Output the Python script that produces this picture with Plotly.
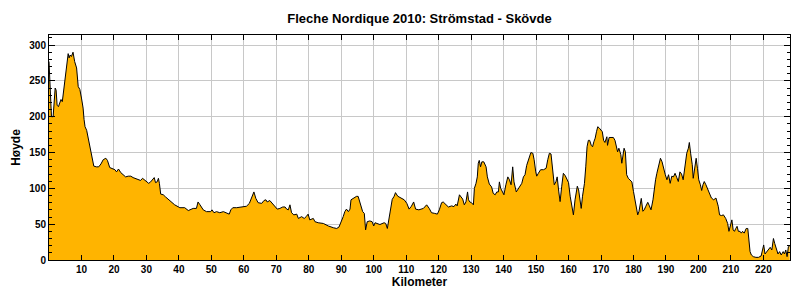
import plotly.graph_objects as go

title_text = "Fleche Nordique 2010: Strömstad - Skövde"
x_title = "Kilometer"
y_title = "Høyde"

km = [0.0, 0.3, 0.5, 0.76, 1.27, 1.6, 1.9, 2.2, 2.5, 2.9, 3.3, 3.7, 4.1, 4.6, 5.1, 5.5, 5.9, 6.2, 6.5, 6.9,
      7.4, 7.9, 8.5, 9.0, 9.5, 10.0, 10.5, 10.8, 11.1, 11.6, 12.1, 12.6, 13.1, 13.8, 14.6, 15.3, 16.0, 16.7, 17.5, 18.0,
      18.7, 19.5, 20.3, 20.8, 21.4, 22.1, 22.8, 23.6, 24.4, 25.2, 25.9, 26.6, 27.5, 28.2, 28.8, 29.5, 30.1, 30.7, 31.3, 31.9,
      32.4, 32.8, 33.3, 33.7, 34.0, 34.4, 35.2, 35.9, 36.7, 37.5, 38.2, 38.7, 40.3, 41.8, 42.9, 43.4, 44.4, 45.4, 45.9, 46.5,
      47.5, 48.5, 49.8, 50.2, 50.8, 51.6, 52.6, 53.7, 54.7, 55.5, 56.0, 56.6, 57.8, 58.8, 59.8, 60.8, 61.7, 62.4, 63.1, 63.7,
      64.4, 65.5, 66.2, 66.8, 67.2, 68.0, 68.8, 69.6, 70.3, 71.1, 72.0, 72.7, 73.2, 73.7, 74.2, 74.7, 75.4, 76.3, 76.8, 77.8,
      78.6, 79.3, 79.8, 80.3, 81.4, 81.9, 82.9, 84.5, 86.0, 87.6, 88.6, 89.3, 90.1, 90.6, 91.1, 91.6, 92.2, 92.7, 93.0, 93.7,
      94.7, 95.2, 95.5, 96.0, 96.6, 97.1, 97.5, 98.0, 98.8, 99.5, 100.0, 100.4, 101.9, 103.2, 103.7, 104.2, 104.7, 105.2, 105.7, 106.3,
      106.7, 107.4, 108.4, 109.4, 110.2, 110.9, 111.6, 112.3, 112.9, 113.9, 115.3, 116.3, 117.1, 117.8, 118.8, 119.6, 120.2, 120.9, 121.4, 122.3,
      123.0, 124.0, 124.7, 125.3, 125.7, 126.4, 126.8, 127.4, 127.9, 128.4, 128.9, 129.2, 129.6, 130.1, 130.7, 131.0, 131.5, 131.9, 132.2, 132.5,
      132.9, 133.3, 133.9, 134.6, 135.0, 135.6, 136.3, 136.8, 137.4, 137.9, 138.4, 138.7, 139.1, 139.7, 140.1, 140.7, 141.3, 141.8, 142.3, 142.8,
      143.2, 143.9, 144.3, 144.9, 145.6, 146.1, 146.6, 147.1, 147.9, 148.4, 149.0, 149.4, 149.9, 150.2, 150.7, 151.4, 152.3, 153.1, 153.6, 154.1,
      154.6, 154.9, 155.2, 155.6, 156.1, 156.5, 157.0, 157.4, 157.9, 158.4, 159.0, 159.5, 160.0, 160.5, 161.0, 161.5, 162.0, 162.3, 162.7, 163.1,
      163.5, 163.9, 164.3, 164.9, 165.3, 165.7, 166.1, 166.5, 167.0, 167.4, 167.8, 168.2, 168.6, 169.0, 169.5, 170.0, 170.4, 170.8, 171.2, 171.8,
      172.0, 172.5, 173.1, 173.8, 174.3, 174.8, 175.1, 175.5, 176.1, 176.4, 176.7, 177.1, 177.5, 177.9, 178.4, 178.9, 179.5, 180.0, 180.5, 180.9,
      181.3, 181.7, 182.0, 182.4, 182.9, 183.3, 183.8, 184.4, 184.9, 185.4, 186.0, 186.4, 186.8, 187.2, 187.7, 188.3, 188.8, 189.3, 189.8, 190.3,
      190.8, 191.3, 191.8, 192.3, 192.8, 193.3, 193.8, 194.3, 194.8, 195.3, 195.9, 196.4, 196.9, 197.2, 197.6, 198.1, 198.4, 198.9, 199.3, 199.7,
      200.1, 200.6, 201.0, 201.4, 201.8, 202.3, 202.8, 203.4, 204.0, 204.7, 205.4, 206.1, 206.5, 207.1, 207.7, 208.4, 209.0, 209.4, 209.8, 210.3,
      210.7, 211.1, 211.5, 211.9, 212.3, 212.8, 213.2, 213.6, 214.1, 214.7, 215.2, 215.5, 215.9, 216.3, 216.9, 217.7, 218.5, 219.3, 219.7, 220.1,
      220.5, 221.0, 221.6, 222.1, 222.6, 223.1, 223.5, 224.0, 224.5, 225.0, 225.5, 226.1, 226.5, 226.9, 227.3, 227.7, 228.1]

elev = [277, 251, 214, 200, 200, 221, 240, 237, 216, 214, 221, 224, 221, 242, 254, 270, 288, 282, 286, 284,
        290, 277, 268, 242, 238, 226, 212, 196, 186, 181, 170, 154, 144, 131, 130, 130, 134, 140, 142, 139,
        129, 127, 126, 123, 127, 122, 119, 116, 117, 117, 115, 114, 112, 111, 114, 111, 109, 107, 109, 112,
        115, 108, 109, 114, 107, 92, 91, 88, 85, 82, 79, 77, 73, 73, 69, 70, 72, 72, 81, 77,
        70, 67.5, 67.5, 70, 66, 67.5, 66, 67.5, 66, 64, 70, 73, 73, 74, 74, 75, 79, 86, 95, 86,
        80, 79, 83, 84, 81, 83, 79, 74, 71, 72, 74, 74, 71, 70, 77, 66, 63, 64, 58, 60.5,
        58, 61, 64, 56, 58, 53.5, 52, 51, 47.5, 45, 44, 46, 53.5, 60.5, 67.5, 71, 67.5, 71, 84, 86.5,
        88.8, 88.8, 84, 79, 67.5, 65, 42, 53.5, 54.5, 53.5, 47.5, 52, 49.5, 52, 51, 44, 58, 70, 84.6, 89,
        94, 89, 86, 84, 79, 71, 75, 81, 71, 70, 72, 77, 72, 66, 65, 64, 70, 80, 81, 77,
        74, 75.5, 74.5, 78, 75.5, 91, 89, 85, 77, 81, 95, 84, 81, 80, 77, 100, 107, 116, 135, 139,
        130, 137, 137, 130, 116, 106, 102, 93, 91, 95, 95, 109, 100, 93, 91, 105, 116, 112, 105, 130,
        109, 95, 98, 102, 107, 116, 119, 132, 142, 150, 149, 140, 123, 117, 121, 126, 126, 128, 140, 149,
        148, 137, 121, 105, 109, 116, 95, 81.5, 103, 121, 117.5, 112, 108, 89, 75, 63, 84, 95.5, 103, 97.8,
        84, 72, 89, 107, 130, 158, 167, 167, 160, 158, 165, 170, 179, 186, 184, 181, 179, 167, 164, 172,
        160, 171, 171, 171, 167, 158, 151, 156, 147, 135, 147, 156, 151, 119, 114, 112, 109, 95.5, 84, 72,
        63, 68, 79, 86, 68, 70, 75, 80.5, 75.5, 70, 84, 100, 112, 121, 132, 142, 137, 126, 119, 112,
        119, 107, 117, 116, 121, 115.5, 109.5, 123, 120, 112, 130, 149, 156, 164, 149, 133, 114, 130, 142, 128,
        112, 105, 97, 105, 109.5, 105, 99, 94, 86.5, 84, 86.5, 75, 63, 62, 63, 58, 51, 40, 47, 56,
        42, 40, 44, 47, 40, 40, 37.5, 40, 37.5, 44, 44, 28, 11.7, 7, 4.7, 3.7, 3.7, 5.6, 16, 21,
        8.4, 11.7, 16, 17.7, 14, 30, 23, 16, 8.4, 11.7, 7, 11.7, 8.4, 14, 4.7, 18.6, 19.5]

x_tick_vals = list(range(10, 230, 10))
y_tick_vals = list(range(0, 301, 50))

fig = go.Figure()
fig.add_trace(go.Scatter(
    x=km, y=elev, mode="lines", fill="tozeroy",
    fillcolor="#FFB400", line=dict(color="black", width=1),
    hoverinfo="x+y", showlegend=False,
))

font_family = "Liberation Sans, Arial, sans-serif"

fig.update_layout(
    width=800, height=300,
    margin=dict(l=49, r=10, t=35, b=40),
    paper_bgcolor="white", plot_bgcolor="white",
    title=dict(text="<b>" + title_text + "</b>", x=(49 + 790) / 2 / 800, xanchor="center",
               y=1 - 18 / 300, yanchor="middle",
               font=dict(family=font_family, size=13, color="black")),
    font=dict(family=font_family, color="black"),
)

fig.update_xaxes(
    range=[0, 228.2], tickvals=x_tick_vals, ticktext=[str(v) for v in x_tick_vals],
    showgrid=True, gridcolor="#c8c8c8", gridwidth=1, zeroline=False,
    showline=True, linecolor="black", linewidth=1, mirror="allticks",
    ticks="inside", ticklen=5, tickcolor="black",
    tickfont=dict(family=font_family, size=10, color="black", weight="bold"),
    title=dict(text="<b>" + x_title + "</b>", standoff=2,
               font=dict(family=font_family, size=12, color="black")),
)
fig.update_yaxes(
    range=[0, 314], tickvals=y_tick_vals, ticktext=[str(v) for v in y_tick_vals],
    showgrid=True, gridcolor="#c8c8c8", gridwidth=1, zeroline=False,
    showline=True, linecolor="black", linewidth=1, mirror="allticks",
    ticks="inside", ticklen=6, tickcolor="black",
    minor=dict(dtick=10, ticks="inside", ticklen=3, tickcolor="black", showgrid=False),
    tickfont=dict(family=font_family, size=10, color="black", weight="bold"),
    title=dict(text="<b>" + y_title + "</b>", standoff=6,
               font=dict(family=font_family, size=12, color="black")),
)

fig.write_html("out.html")
